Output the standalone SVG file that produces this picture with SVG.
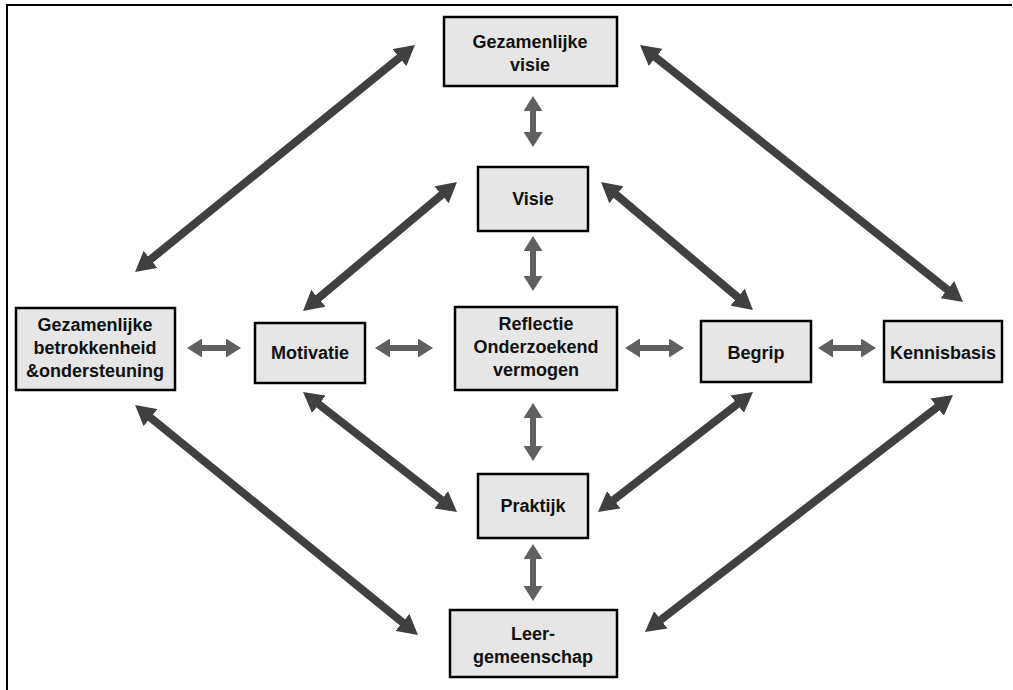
<svg xmlns="http://www.w3.org/2000/svg" width="1013" height="690" viewBox="0 0 1013 690">
<defs>
<style>
.box{fill:#e6e6e6;stroke:#000;stroke-width:2.5}
.t{font-family:"Liberation Sans",Arial,sans-serif;font-weight:700;font-size:18px;fill:#111;text-anchor:middle}
.d{stroke:#404040;stroke-width:8;fill:none;marker-start:url(#hd);marker-end:url(#hd)}
.s{stroke:#606060;stroke-width:6;fill:none;marker-start:url(#hs);marker-end:url(#hs)}
</style>
<marker id="hd" markerUnits="userSpaceOnUse" markerWidth="20" markerHeight="22" refX="10" refY="11" orient="auto-start-reverse" viewBox="0 0 20 22"><path d="M0,0 L20,11 L0,22 z" fill="#404040"/></marker>
<marker id="hs" markerUnits="userSpaceOnUse" markerWidth="15" markerHeight="19" refX="7" refY="9.5" orient="auto-start-reverse" viewBox="0 0 15 19"><path d="M0,0 L15,9.5 L0,19 z" fill="#606060"/></marker>
</defs>
<rect width="1013" height="690" fill="#fff"/>
<path d="M7,690 V5 H1012" fill="none" stroke="#000" stroke-width="2"/>
<g id="connectors">
<line class="d" x1="407.2" y1="51.3" x2="142.8" y2="265.7"/>
<line class="d" x1="647.8" y1="51.2" x2="955.2" y2="295.8"/>
<line class="d" x1="449.3" y1="188.4" x2="310.7" y2="304.6"/>
<line class="d" x1="608.7" y1="188.4" x2="745.3" y2="303.6"/>
<line class="d" x1="310.9" y1="398.2" x2="449.1" y2="505.9"/>
<line class="d" x1="745.1" y1="398.1" x2="605.9" y2="505.9"/>
<line class="d" x1="142.8" y1="411.3" x2="410.2" y2="628.7"/>
<line class="d" x1="945.1" y1="401.1" x2="652.9" y2="625.9"/>
<line class="s" x1="533" y1="104" x2="533" y2="139"/>
<line class="s" x1="533" y1="244" x2="533" y2="283"/>
<line class="s" x1="533" y1="411" x2="533" y2="453"/>
<line class="s" x1="533" y1="552" x2="533" y2="593"/>
<line class="s" x1="195" y1="348" x2="233" y2="348"/>
<line class="s" x1="383" y1="348" x2="425" y2="348"/>
<line class="s" x1="633" y1="348" x2="676" y2="348"/>
<line class="s" x1="826" y1="348" x2="868" y2="348"/>
</g>
<g id="gezamenlijke-visie"><rect class="box" x="444" y="17" width="173" height="69"/><text class="t" x="530" y="48">Gezamenlijke</text><text class="t" x="530" y="71">visie</text></g>
<g id="visie"><rect class="box" x="478" y="167" width="110" height="64"/><text class="t" x="533" y="205">Visie</text></g>
<g id="betrokkenheid"><rect class="box" x="16" y="308" width="159" height="82"/><text class="t" x="95" y="331">Gezamenlijke</text><text class="t" x="95" y="354">betrokkenheid</text><text class="t" x="95" y="377">&amp;ondersteuning</text></g>
<g id="motivatie"><rect class="box" x="255" y="323" width="110" height="60"/><text class="t" x="310" y="359">Motivatie</text></g>
<g id="reflectie"><rect class="box" x="455" y="307" width="162" height="83"/><text class="t" x="536" y="330">Reflectie</text><text class="t" x="536" y="353">Onderzoekend</text><text class="t" x="536" y="376">vermogen</text></g>
<g id="begrip"><rect class="box" x="701" y="321" width="110" height="61"/><text class="t" x="756" y="359">Begrip</text></g>
<g id="kennisbasis"><rect class="box" x="884" y="321" width="118" height="61"/><text class="t" x="943" y="359">Kennisbasis</text></g>
<g id="praktijk"><rect class="box" x="478" y="474" width="110" height="64"/><text class="t" x="533" y="512">Praktijk</text></g>
<g id="leergemeenschap"><rect class="box" x="450" y="610" width="167" height="67"/><text class="t" x="533" y="640">Leer-</text><text class="t" x="533" y="663">gemeenschap</text></g>
</svg>
